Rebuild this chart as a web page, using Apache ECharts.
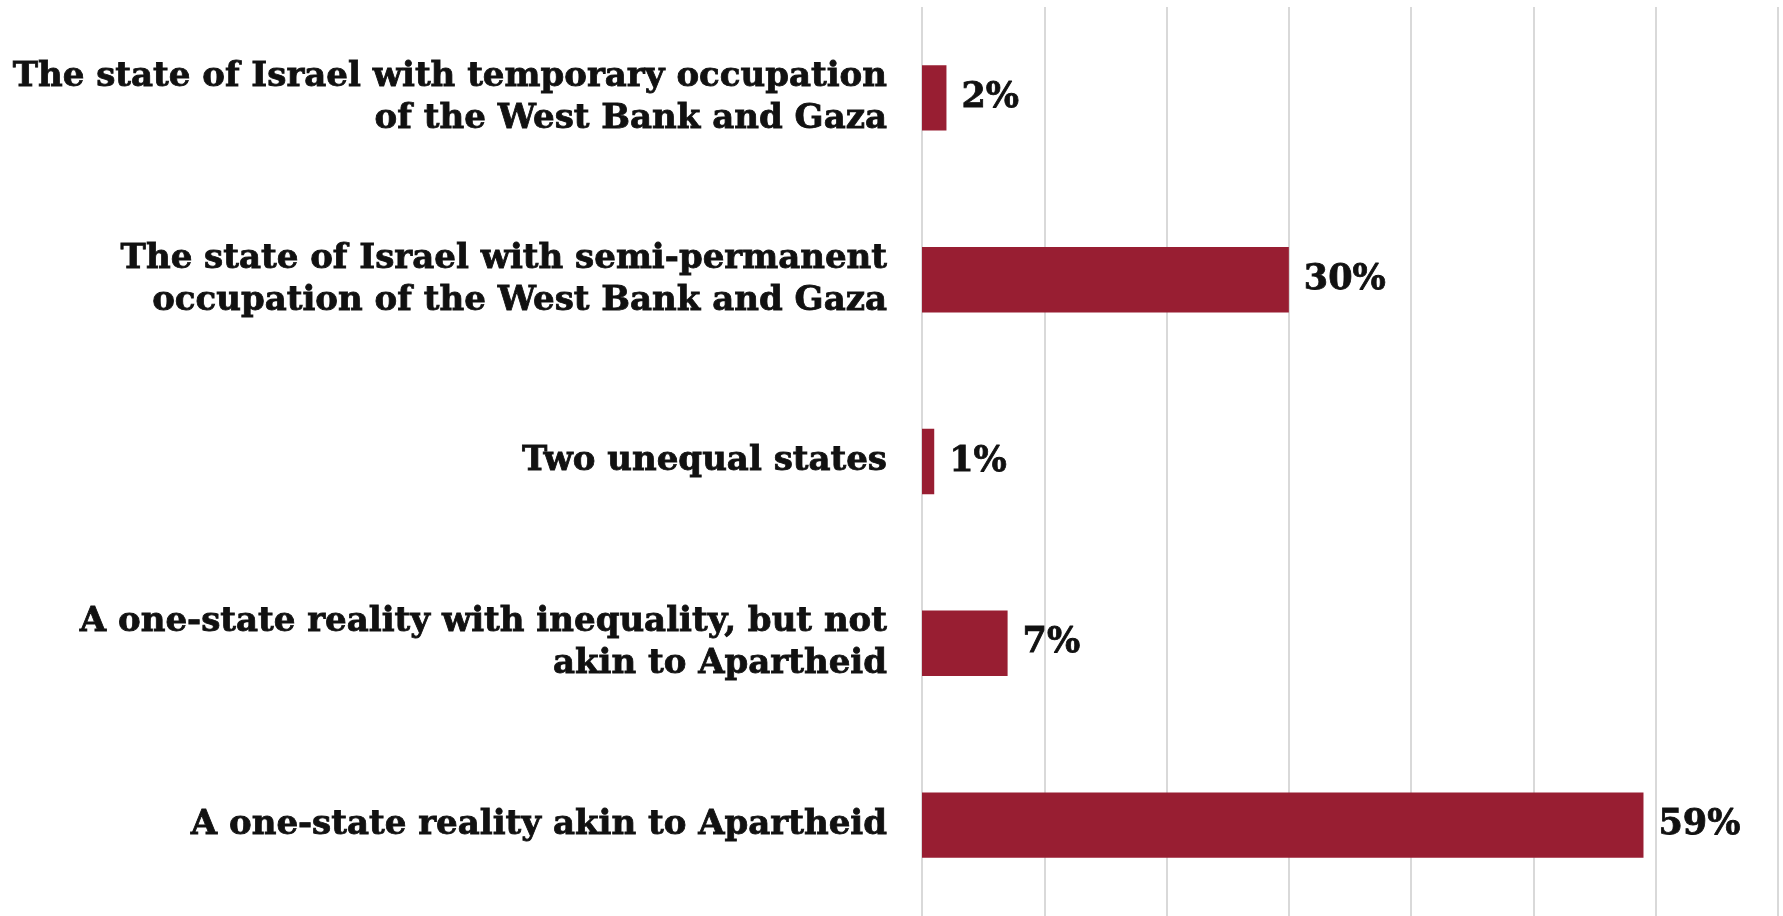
<!DOCTYPE html>
<html>
<head>
<meta charset="utf-8">
<script src="https://cdn.jsdelivr.net/npm/echarts@6/dist/echarts.min.js"></script>
<style>
    html, body { margin: 0; padding: 0; background: #fff; }
    #chart { width: 1783px; height: 916px; }
</style>
</head>
<body>
<div id="chart"></div>
<script>
    var categories = [
        'The state of Israel with temporary occupation\nof the West Bank and Gaza',
        'The state of Israel with semi-permanent\noccupation of the West Bank and Gaza',
        'Two unequal states',
        'A one-state reality with inequality, but not\nakin to Apartheid',
        'A one-state reality akin to Apartheid'
    ];
    var values = [2, 30, 1, 7, 59];

    var chart = echarts.init(document.getElementById('chart'));
    chart.setOption({
        animation: false,
        grid: {
            left: 922,
            right: 5,
            top: 7,
            bottom: -1,
            containLabel: false
        },
        xAxis: {
            type: 'value',
            min: 0,
            max: 70,
            interval: 10,
            axisLine: { show: false },
            axisTick: { show: false },
            axisLabel: { show: false },
            splitLine: {
                show: true,
                lineStyle: { color: '#d9d9d9', width: 2 }
            }
        },
        yAxis: {
            type: 'category',
            inverse: true,
            data: categories,
            axisLine: { show: false },
            axisTick: { show: false },
            axisLabel: {
                margin: 35,
                align: 'right',
                color: '#111',
                fontFamily: 'DejaVu Serif',
                fontWeight: 'bold',
                fontSize: 34,
                lineHeight: 42,
                textBorderColor: '#111',
                textBorderWidth: 0.8
            }
        },
        series: [{
            type: 'bar',
            data: values,
            barWidth: '36%',
            itemStyle: { color: '#981e32' },
            label: {
                show: true,
                position: 'right',
                distance: 15,
                formatter: '{c}%',
                color: '#111',
                fontFamily: 'DejaVu Serif',
                fontWeight: 'bold',
                fontSize: 35,
                textBorderColor: '#111',
                textBorderWidth: 0.8
            }
        }]
    });
</script>
</body>
</html>
